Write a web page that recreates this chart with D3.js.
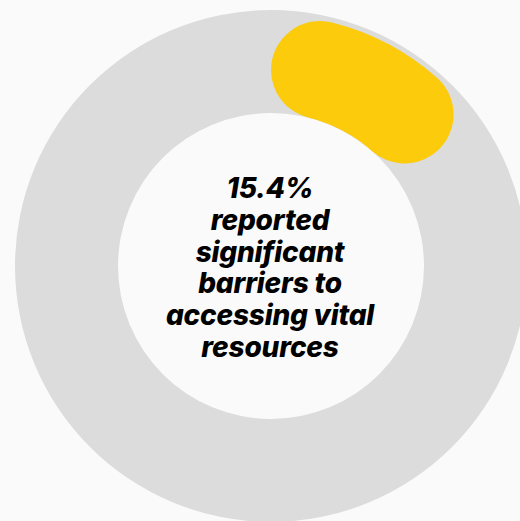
<!DOCTYPE html>
<html>
<head>
<meta charset="utf-8">
<script src="https://cdn.jsdelivr.net/npm/d3@7"></script>
<style>
  html, body { margin: 0; padding: 0; background: #fafafa; }
  svg { display: block; }
</style>
</head>
<body>
<svg id="chart" width="520" height="521"></svg>
<script>
// Share of respondents reporting significant barriers
const share = [15.4];
const total = [100];
const labelLines = ["15.4%", "reported", "significant", "barriers to", "accessing vital", "resources"];

const width = 520, height = 521;
const cx = 271, cy = 266;
const svg = d3.select("#chart");
const g = svg.append("g").attr("transform", `translate(${cx},${cy})`);

const angle = d3.scaleLinear().domain([0, total[0]]).range([0, 2 * Math.PI]);

// Background track
g.append("path")
  .attr("d", d3.arc().innerRadius(153).outerRadius(256).startAngle(0).endAngle(2 * Math.PI)())
  .attr("fill", "#dcdcdc");

// Value arc with rounded ends
g.append("path")
  .attr("d", d3.arc().innerRadius(153).outerRadius(251).cornerRadius(49)
    .startAngle(angle(0)).endAngle(angle(share[0]))())
  .attr("fill", "#fccb0c");

// Centre label
const text = svg.append("text")
  .attr("text-anchor", "middle")
  .attr("font-family", "Inter, 'Open Sans', sans-serif")
  .attr("font-weight", 800)
  .attr("font-style", "italic")
  .attr("font-size", 28)
  .attr("letter-spacing", -0.2)
  .attr("fill", "#000");

text.selectAll("tspan")
  .data(labelLines)
  .join("tspan")
  .attr("x", 270)
  .attr("y", (d, i) => 198 + i * 31.8)
  .text(d => d);
</script>
</body>
</html>
